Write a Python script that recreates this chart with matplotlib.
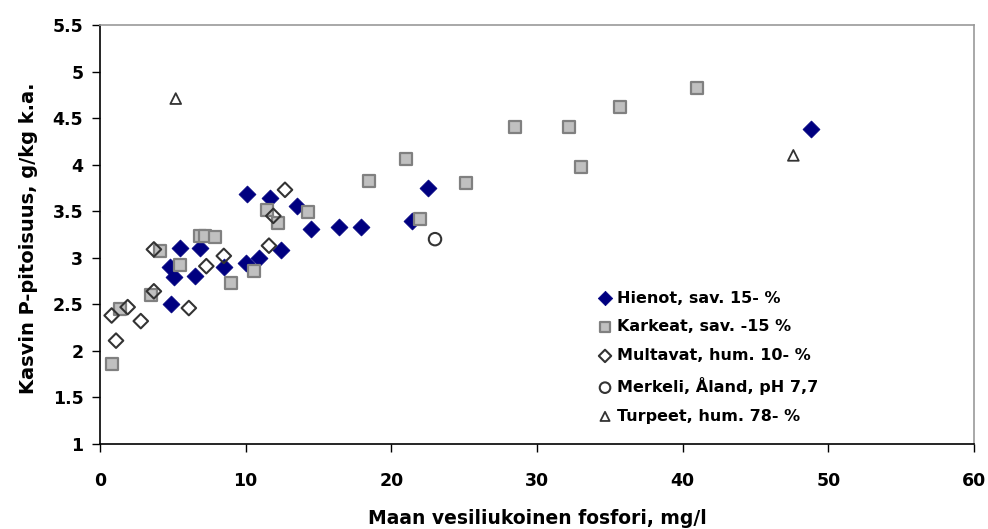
import matplotlib
matplotlib.use("Agg")
import matplotlib.pyplot as plt

plt.rcParams['font.family'] = ['DejaVu Sans']
plt.rcParams['font.weight'] = 'bold'

# Hienot, sav. 15- %
hienot_x = [10.1, 11.7, 13.5, 14.5, 16.4, 17.9, 5.5, 6.9, 4.8, 5.1, 6.5, 8.5,
            10.0, 10.9, 12.4, 4.9, 22.5, 21.4, 48.8]
hienot_y = [3.69, 3.64, 3.56, 3.31, 3.33, 3.33, 3.11, 3.11, 2.90, 2.79, 2.80, 2.90,
            2.94, 3.00, 3.08, 2.50, 3.75, 3.40, 4.38]

# Karkeat, sav. -15 %
karkeat_x = [11.5, 14.3, 12.2, 6.9, 7.2, 7.9, 4.1, 5.5, 9.0, 10.6, 3.5, 1.4, 0.8,
             18.5, 21.0, 22.0, 41.0, 35.7, 28.5, 32.2, 33.0, 25.1]
karkeat_y = [3.51, 3.49, 3.37, 3.23, 3.23, 3.22, 3.07, 2.92, 2.73, 2.86, 2.60, 2.45, 1.86,
             3.82, 4.06, 3.42, 4.82, 4.62, 4.40, 4.41, 3.98, 3.80]

# Multavat, hum. 10- %
multavat_x = [12.7, 11.9, 11.6, 8.5, 7.3, 3.7, 3.7, 6.1, 1.9, 0.8, 2.8, 1.1]
multavat_y = [3.73, 3.45, 3.13, 3.02, 2.91, 3.09, 2.64, 2.46, 2.47, 2.38, 2.32, 2.11]

# Merkeli, Åland, pH 7,7
merkeli_x = [23.0]
merkeli_y = [3.20]

# Turpeet, hum. 78- %
turpeet_x = [5.2, 47.6]
turpeet_y = [4.71, 4.10]

fig = plt.figure(figsize=(9.88, 5.29), dpi=100)
ax = fig.add_axes([0.1012, 0.1607, 0.8846, 0.792])

ax.scatter(hienot_x, hienot_y, marker='D', s=75, c='#000080', edgecolors='#000080',
           linewidths=0.5, label='Hienot, sav. 15- %', zorder=3)
ax.scatter(karkeat_x, karkeat_y, marker='s', s=85, c='#c0c0c0', edgecolors='#808080',
           linewidths=1.6, label='Karkeat, sav. -15 %', zorder=3)
ax.scatter(multavat_x, multavat_y, marker='D', s=55, facecolors='none', edgecolors='#333333',
           linewidths=1.5, label='Multavat, hum. 10- %', zorder=4)
ax.scatter(merkeli_x, merkeli_y, marker='o', s=80, facecolors='none', edgecolors='#333333',
           linewidths=1.5, label='Merkeli, Åland, pH 7,7', zorder=4)
ax.scatter(turpeet_x, turpeet_y, marker='^', s=60, facecolors='none', edgecolors='#333333',
           linewidths=1.3, label='Turpeet, hum. 78- %', zorder=4)

ax.set_xlim(0, 60)
ax.set_ylim(1, 5.5)
ax.set_xticks([0, 10, 20, 30, 40, 50, 60])
ax.set_yticks([1, 1.5, 2, 2.5, 3, 3.5, 4, 4.5, 5, 5.5])
ax.set_yticklabels(['1', '1.5', '2', '2.5', '3', '3.5', '4', '4.5', '5', '5.5'])

for side in ['top', 'right']:
    ax.spines[side].set_color('#999999')
    ax.spines[side].set_linewidth(1.2)
for side in ['left', 'bottom']:
    ax.spines[side].set_color('black')
    ax.spines[side].set_linewidth(1.2)

ax.tick_params(axis='both', direction='out', length=6, width=1.0, labelsize=12.5, pad=6)
ax.tick_params(axis='x', pad=14)

ax.set_xlabel('Maan vesiliukoinen fosfori, mg/l', fontsize=13.5, fontweight='bold')
ax.set_ylabel('Kasvin P-pitoisuus, g/kg k.a.', fontsize=14, fontweight='bold')
ax.xaxis.set_label_coords(0.5, -0.155)
ax.yaxis.set_label_coords(-0.071, 0.49)

leg = ax.legend(loc='upper left', bbox_to_anchor=(0.571, 0.366), frameon=False,
                fontsize=11.5, handlelength=0.75, handletextpad=0.37,
                labelspacing=0.86, borderpad=0, borderaxespad=0, markerscale=0.85)

fig.savefig('out.png', dpi=100)
